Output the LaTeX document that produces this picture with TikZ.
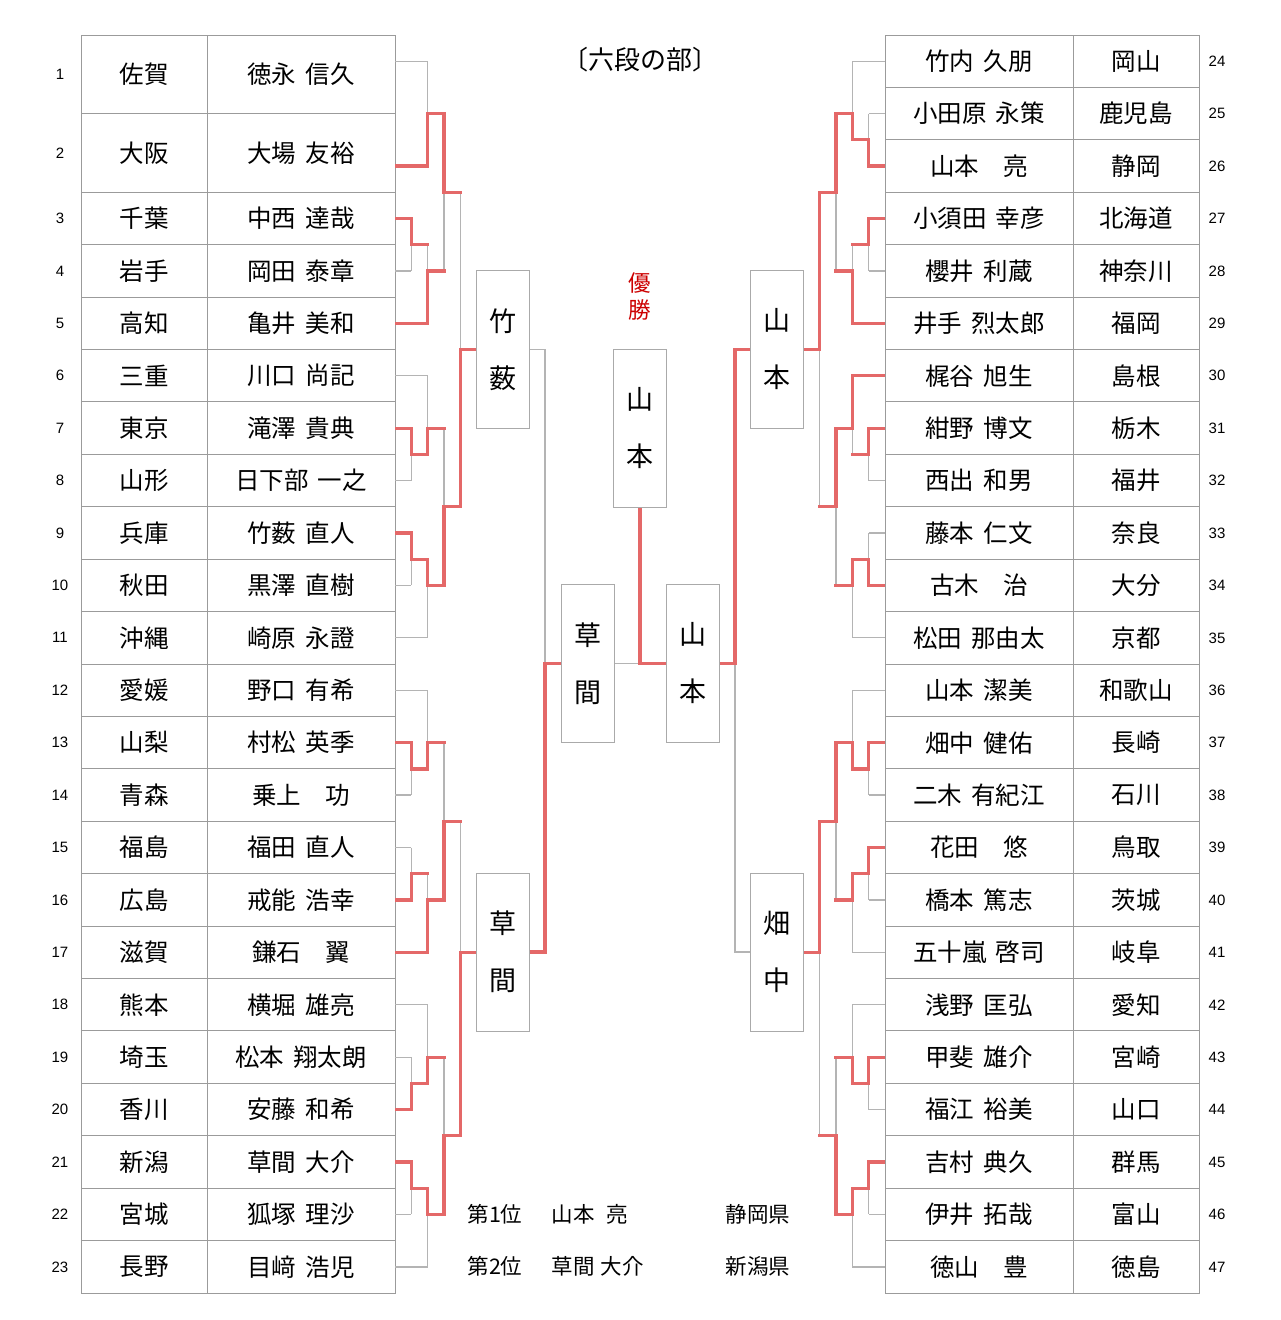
\documentclass[tikz,border=0pt]{standalone}
\usepackage{fontspec}
\setmainfont[WordSpace=1.7]{Noto Sans CJK JP}
\newfontfamily\numfont{Liberation Sans}
\usetikzlibrary{positioning}
\definecolor{tabgray}{RGB}{155,155,155}
\definecolor{wiregray}{RGB}{180,180,180}
\definecolor{boxgray}{RGB}{170,170,170}
\definecolor{winred}{RGB}{228,104,104}
\definecolor{titlered}{RGB}{204,0,0}

\begin{document}
\begin{tikzpicture}[
  x=1pt, y=-1pt,
  declare function={sy(\t)=35+(\t+0.5)*52.42; lx(\t)=395+16.3*\t; rx(\t)=885-16.3*\t;},
  grid/.style={draw=tabgray, line width=1pt},
  cell/.style={font=\fontsize{24.5}{28}\selectfont, inner sep=0pt},
  num/.style={font=\numfont\fontsize{15}{17}\selectfont, inner sep=0pt},
  wire/.style={draw=wiregray, line width=1.3pt},
  win/.style={draw=winred, line width=3.3pt, line cap=rect},
  winb/.style={draw=winred, line width=3.3pt},
  vbox/.style={draw=boxgray, fill=white, line width=1pt,
               minimum width=53pt, minimum height=158pt, inner sep=0pt,
               align=center, font=\fontsize{27}{57}\selectfont},
  result/.style={anchor=west, font=\fontsize{21.5}{24}\selectfont},
]
\useasboundingbox (0,0) rectangle (1280,1320);

% Tabla izquierda
\draw[grid] (81,35) rectangle (395,1293);
\draw[grid] (207,35) -- (207,1293);
\foreach \b in {1.5,3,4,5,...,23}
  \draw[grid] (81,{35+\b*52.42}) -- (395,{35+\b*52.42});
\foreach \n/\s/\p/\m in {1/0.25/佐賀/徳永 信久, 2/1.75/大阪/大場 友裕,
    3/3/千葉/中西 達哉, 4/4/岩手/岡田 泰章, 5/5/高知/亀井 美和,
    6/6/三重/川口 尚記, 7/7/東京/滝澤 貴典, 8/8/山形/日下部 一之,
    9/9/兵庫/竹薮 直人, 10/10/秋田/黒澤 直樹, 11/11/沖縄/崎原 永證,
    12/12/愛媛/野口 有希, 13/13/山梨/村松 英季, 14/14/青森/乗上　功,
    15/15/福島/福田 直人, 16/16/広島/戒能 浩幸, 17/17/滋賀/鎌石　翼,
    18/18/熊本/横堀 雄亮, 19/19/埼玉/松本 翔太朗, 20/20/香川/安藤 和希,
    21/21/新潟/草間 大介, 22/22/宮城/狐塚 理沙, 23/23/長野/目﨑 浩児} {
  \node[num]  (lno\n)   at (60,{sy(\s)})  {\n};
  \node[cell] (lpref\n) at (144,{sy(\s)}) {\p};
  \node[cell] (lname\n) at (301,{sy(\s)}) {\m};
}

% Tabla derecha
\draw[grid] (885,35) rectangle (1199,1293);
\draw[grid] (1073,35) -- (1073,1293);
\foreach \b in {1,...,23}
  \draw[grid] (885,{35+\b*52.42}) -- (1199,{35+\b*52.42});
\foreach \n/\m/\p in {24/竹内 久朋/岡山, 25/小田原 永策/鹿児島, 26/山本　亮/静岡,
    27/小須田 幸彦/北海道, 28/櫻井 利蔵/神奈川, 29/井手 烈太郎/福岡,
    30/梶谷 旭生/島根, 31/紺野 博文/栃木, 32/西出 和男/福井,
    33/藤本 仁文/奈良, 34/古木　治/大分, 35/松田 那由太/京都,
    36/山本 潔美/和歌山, 37/畑中 健佑/長崎, 38/二木 有紀江/石川,
    39/花田　悠/鳥取, 40/橋本 篤志/茨城, 41/五十嵐 啓司/岐阜,
    42/浅野 匡弘/愛知, 43/甲斐 雄介/宮崎, 44/福江 裕美/山口,
    45/吉村 典久/群馬, 46/伊井 拓哉/富山, 47/徳山　豊/徳島} {
  \node[cell] (rname\n) at (979,{sy(\n-24)})  {\m};
  \node[cell] (rpref\n) at (1136,{sy(\n-24)}) {\p};
  \node[num]  (rno\n)   at (1217,{sy(\n-24)}) {\n};
}

% Llaves: nivel/arriba/abajo/salida/ganador
\def\lmatches{1/3/4/3.5/3, 1/7/8/7.5/7, 1/9/10/9.5/9, 1/13/14/13.5/13,
  1/15/16/15.5/16, 1/19/20/19.5/20, 1/21/22/21.5/21,
  2/0/2/1/2, 2/3.5/5/4/5, 2/6/7.5/7/7.5, 2/9.5/11/10/9.5, 2/12/13.5/13/13.5,
  2/15.5/17/16/17, 2/18/19.5/19/19.5, 2/21.5/23/22/21.5,
  3/1/4/2.5/1, 3/7/10/8.5/10, 3/13/16/14.5/16, 3/19/22/20.5/22,
  4/2.5/8.5/5.5/8.5, 4/14.5/20.5/17/20.5}
\def\rmatches{1/1/2/1.5/2, 1/3/4/3.5/3, 1/7/8/7.5/7, 1/9/10/9.5/10,
  1/13/14/13.5/13, 1/15/16/15.5/15, 1/19/20/19.5/19, 1/21/22/21.5/21,
  2/0/1.5/1/1.5, 2/3.5/5/4/5, 2/6/7.5/7/6, 2/9.5/11/10/9.5, 2/12/13.5/13/13.5,
  2/15.5/17/16/15.5, 2/18/19.5/19/19.5, 2/21.5/23/22/21.5,
  3/1/4/2.5/1, 3/7/10/8.5/7, 3/13/16/14.5/13, 3/19/22/20.5/22,
  4/2.5/8.5/5.5/2.5, 4/14.5/20.5/17/14.5}

% Lado izquierdo
\foreach \s/\k in {0/2,2/2,3/1,4/1,5/2,6/2,7/1,8/1,9/1,10/1,11/2,12/2,
    13/1,14/1,15/1,16/1,17/2,18/2,19/1,20/1,21/1,22/1,23/2}
  \draw[wire] (395,{sy(\s)}) -- ({lx(\k)},{sy(\s)});
\foreach \k/\a/\b/\o/\w in \lmatches
  \draw[wire] ({lx(\k)},{sy(\a)}) -- ({lx(\k)},{sy(\b)});
\foreach \s/\k in {2/2,3/1,5/2,7/1,9/1,13/1,16/1,17/2,20/1,21/1}
  \draw[winb] (395,{sy(\s)}) -- ({lx(\k)},{sy(\s)});
\foreach \k/\a/\b/\o/\w in \lmatches
  \draw[win] ({lx(\k)},{sy(\w)}) -- ({lx(\k)},{sy(\o)}) -- ({lx(\k+1)},{sy(\o)});

% Lado derecho
\foreach \s/\k in {0/2,1/1,2/1,3/1,4/1,5/2,6/2,7/1,8/1,9/1,10/1,11/2,12/2,
    13/1,14/1,15/1,16/1,17/2,18/2,19/1,20/1,21/1,22/1,23/2}
  \draw[wire] (885,{sy(\s)}) -- ({rx(\k)},{sy(\s)});
\foreach \k/\a/\b/\o/\w in \rmatches
  \draw[wire] ({rx(\k)},{sy(\a)}) -- ({rx(\k)},{sy(\b)});
\foreach \s/\k in {2/1,3/1,5/2,6/2,7/1,10/1,13/1,15/1,19/1,21/1}
  \draw[winb] (885,{sy(\s)}) -- ({rx(\k)},{sy(\s)});
\foreach \k/\a/\b/\o/\w in \rmatches
  \draw[win] ({rx(\k)},{sy(\w)}) -- ({rx(\k)},{sy(\o)}) -- ({rx(\k+1)},{sy(\o)});

% Cajas centrales
\node[vbox] (takeyabu)  at (502.5,349.5) {竹\\薮};
\node[vbox] (kusamaQ)   at (502.5,952)   {草\\間};
\node[vbox] (kusamaS)   at (587.5,663.5) {草\\間};
\node[vbox] (yamamotoS) at (692.5,663.5) {山\\本};
\node[vbox] (yamamotoQ) at (777,349.5)   {山\\本};
\node[vbox] (hatanakaQ) at (777,952)     {畑\\中};
\node[vbox] (champion)  at (640,428)     {山\\本};
\node[text=titlered, align=center, inner sep=0pt,
      font=\fontsize{22.5}{27}\selectfont] (yusho) at (640,297) {優\\勝};

% Semifinales y final
\coordinate (semiL)  at (545,663.5);
\coordinate (semiR)  at (735,663.5);
\coordinate (finalC) at (640,663.5);
\draw[wire] (takeyabu.east) -| (semiL);
\draw[winb] (kusamaQ.east) -| (semiL) -- (kusamaS.west);
\draw[wire] (hatanakaQ.west) -| (semiR);
\draw[winb] (yamamotoQ.west) -| (semiR) -- (yamamotoS.east);
\draw[wire] (kusamaS.east) -- (finalC);
\draw[winb] (yamamotoS.west) -- (finalC) -- (champion.south);

% Titulo y resultados
\node[font=\fontsize{26}{30}\selectfont] (title) at (640,60) {〔六段の部〕};
\node[result] (rank1) at (464,1214) {第1位};
\node[result] (name1) at (548,1214) {山本\hspace{12pt}亮};
\node[result] (pref1) at (722,1214) {静岡県};
\node[result] (rank2) at (464,1266) {第2位};
\node[result] (name2) at (548,1266) {草間\hspace{6pt}大介};
\node[result] (pref2) at (722,1266) {新潟県};
\end{tikzpicture}
\end{document}
